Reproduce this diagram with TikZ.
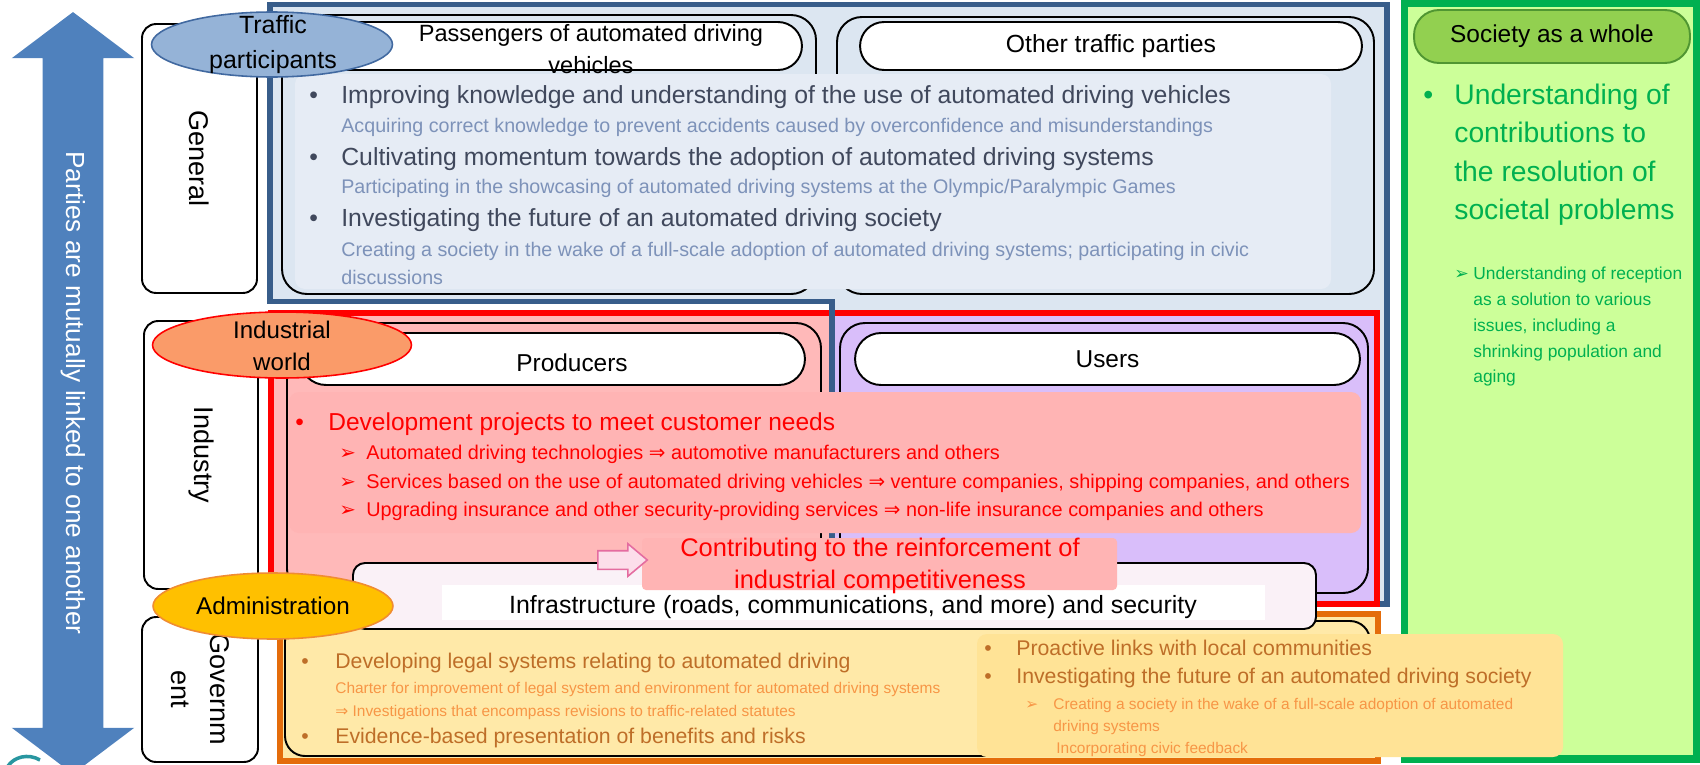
\documentclass[tikz,border=0pt]{standalone}
\usepackage{fontspec}
\setmainfont{Liberation Sans}
\newfontfamily\symfont{DejaVu Sans}
\usetikzlibrary{shapes.geometric,shapes.arrows,positioning}

\definecolor{linkblue}{RGB}{79,129,189}
\definecolor{framblue}{RGB}{56,93,138}
\definecolor{genfill}{RGB}{220,230,241}
\definecolor{genpanel}{RGB}{230,236,245}
\definecolor{gentext}{RGB}{64,72,92}
\definecolor{gensub}{RGB}{125,146,185}
\definecolor{tpfill}{RGB}{149,179,215}
\definecolor{tpline}{RGB}{65,105,160}
\definecolor{indred}{RGB}{255,0,0}
\definecolor{prodfill}{RGB}{255,185,185}
\definecolor{userfill}{RGB}{217,190,250}
\definecolor{devfill}{RGB}{255,180,180}
\definecolor{iwfill}{RGB}{250,155,105}
\definecolor{arrowpink}{RGB}{228,108,160}
\definecolor{arrowfill}{RGB}{252,222,234}
\definecolor{infrafill}{RGB}{250,241,247}
\definecolor{govline}{RGB}{228,108,10}
\definecolor{govfill}{RGB}{255,233,168}
\definecolor{govpanel}{RGB}{255,227,150}
\definecolor{govtext}{RGB}{190,110,40}
\definecolor{govsub}{RGB}{247,150,70}
\definecolor{adminfill}{RGB}{255,192,0}
\definecolor{adminline}{RGB}{240,140,50}
\definecolor{socline}{RGB}{0,176,80}
\definecolor{socfill}{RGB}{204,255,153}
\definecolor{socpill}{RGB}{146,208,80}
\definecolor{socpillline}{RGB}{80,150,50}
\definecolor{logoteal}{RGB}{40,150,160}

\tikzset{thinline/.style={draw=black, line width=1.1pt},
  catbox/.style={draw, line width=1.1pt, fill=white, rounded corners=0.28cm, rotate=-90, inner sep=0pt, align=center, font=\fontsize{15.4}{22.2}\selectfont},
  pillbox/.style={draw, line width=1.1pt, fill=white, rounded corners=0.48cm, inner sep=0pt, minimum height=0.96cm, font=\fontsize{13.9}{16}\selectfont},
  oval/.style={ellipse, draw, line width=0.9pt, inner sep=0pt},
  ovaltext/.style={align=center, inner sep=0pt, font=\fontsize{14}{19.9}\selectfont},
  gmain/.style={anchor=base west, inner sep=0pt, text=gentext, font=\fontsize{14.1}{17}\selectfont},
  gsub/.style={anchor=base west, inner sep=0pt, text=gensub, font=\fontsize{11.2}{14}\selectfont},
  imain/.style={anchor=base west, inner sep=0pt, text=indred, font=\fontsize{13.95}{17}\selectfont},
  isub/.style={anchor=base west, inner sep=0pt, text=indred, font=\fontsize{11.3}{14}\selectfont},
  omain/.style={anchor=base west, inner sep=0pt, text=govtext, font=\fontsize{12.1}{14}\selectfont},
  osub/.style={anchor=base west, inner sep=0pt, text=govsub, font=\fontsize{8.8}{10}\selectfont},
  smain/.style={anchor=base west, inner sep=0pt, text=socline, font=\fontsize{16.1}{19}\selectfont},
  ssub/.style={anchor=base west, inner sep=0pt, text=socline, font=\fontsize{9.9}{12}\selectfont},
  linkarrow/.style={double arrow, rotate=-90, fill=linkblue, text=white, inner xsep=0pt, inner ysep=0.37cm, text height=10pt, text depth=3pt, minimum height=15.24cm, double arrow head extend=0.62cm, double arrow tip angle=106, font=\fontsize{14.9}{17}\selectfont},
  pusharrow/.style={single arrow, draw=arrowpink, fill=arrowfill, line width=0.9pt, inner xsep=0pt, inner ysep=0.17cm, minimum height=0.99cm, single arrow head extend=0.14cm, single arrow tip angle=80}}

\begin{document}
\begin{tikzpicture}[x=0.02cm, y=-0.02cm]
    \useasboundingbox (0,0) rectangle (1700,764);
    % linking arrow on the left
    \node[linkarrow] (link) at (73,393) {Parties are mutually linked to one another};

    % society as a whole
    \draw[socline, line width=4pt, fill=socfill] (1404,3.5) rectangle (1696,759);
    \node[pillbox, fill=socpill, draw=socpillline, minimum width=5.52cm, minimum height=1.06cm, rounded corners=0.5cm] (society) at (1552,36.5) {Society as a whole};
    \node[smain] (sb) at (1423,104.3) {•};
    \node[smain] (s1) at (1454,104.3) {Understanding of};
    \node[smain] (s2) at (1454,142.3) {contributions to};
    \node[smain] (s3) at (1454,181.3) {the resolution of};
    \node[smain] (s4) at (1454,219.3) {societal problems};
    \node[ssub] (ssb) at (1454,279.7) {{\symfont ➢}};
    \node[ssub] (ss1) at (1473,279.7) {Understanding of reception};
    \node[ssub] (ss2) at (1473,305.7) {as a solution to various};
    \node[ssub] (ss3) at (1473,331.7) {issues, including a};
    \node[ssub] (ss4) at (1473,357.7) {shrinking population and};
    \node[ssub] (ss5) at (1473,382.7) {aging};

    % traffic participants
    \draw[framblue, line width=3.4pt, fill=genfill] (270,4.5) -- (1387,4.5) -- (1387,604) -- (832,604) -- (832,301.5) -- (270,301.5) -- cycle;
    \draw[thinline, rounded corners=0.5cm] (282,15) rectangle (816,294);
    \draw[thinline, rounded corners=0.5cm] (837,17) rectangle (1374,294);
    \node[pillbox, minimum width=10.04cm] (passpill) at (551,46) {};
    \node[pillbox, minimum width=10.04cm, font=\fontsize{14.1}{16}\selectfont] (otherpill) at (1111,46) {Other traffic parties};
    \node[ovaltext, font=\fontsize{13.4}{18.2}\selectfont] (passtext) at (591,49) {Passengers of automated driving\\vehicles};
    \fill[genpanel, rounded corners=0.2cm] (295,74) rectangle (1331,289);
    \node[gmain] (gb1) at (309,103) {•};
    \node[gmain] (g1) at (341,103) {Improving knowledge and understanding of the use of automated driving vehicles};
    \node[gsub] (g1s) at (341,132.6) {Acquiring correct knowledge to prevent accidents caused by overconfidence and misunderstandings};
    \node[gmain] (gb2) at (309,165) {•};
    \node[gmain] (g2) at (341,165) {Cultivating momentum towards the adoption of automated driving systems};
    \node[gsub] (g2s) at (341,193.6) {Participating in the showcasing of automated driving systems at the Olympic/Paralympic Games};
    \node[gmain] (gb3) at (309,226) {•};
    \node[gmain] (g3) at (341,226) {Investigating the future of an automated driving society};
    \node[gsub] (g3s) at (341,256.6) {Creating a society in the wake of a full-scale adoption of automated driving systems; participating in civic};
    \node[gsub] (g3t) at (341,284.6) {discussions};

    % industrial world
    \fill[prodfill] (271,313) rectangle (832,604);
    \fill[userfill] (832,313) rectangle (1377,604);
    \draw[indred, line width=3.4pt] (271,313) rectangle (1377,604);
    \draw[thinline, rounded corners=0.5cm] (287,323) rectangle (821,594);
    \draw[thinline, rounded corners=0.5cm] (840,323) rectangle (1368,593);
    \node[pillbox, minimum width=10.1cm, minimum height=1.04cm, rounded corners=0.52cm] (prodpill) at (552.5,359) {};
    \node[pillbox, minimum width=10.1cm, minimum height=1.04cm, rounded corners=0.52cm] (userpill) at (1107.5,359) {Users};
    \node[ovaltext, font=\fontsize{13.9}{16}\selectfont] (prodtext) at (572,363) {Producers};
    \draw[framblue, line width=3.4pt] (832,300) -- (832,540);
    \fill[devfill, rounded corners=0.2cm] (289,392) rectangle (1361,533);
    \node[imain] (ib) at (295,430.4) {•};
    \node[imain] (i1) at (328,430.4) {Development projects to meet customer needs};
    \node[isub] (ia1) at (339,459.8) {{\symfont ➢}};
    \node[isub] (i2) at (366,459.8) {Automated driving technologies {\symfont ⇒} automotive manufacturers and others};
    \node[isub] (ia2) at (339,488.8) {{\symfont ➢}};
    \node[isub] (i3) at (366,488.8) {Services based on the use of automated driving vehicles {\symfont ⇒} venture companies, shipping companies, and others};
    \node[isub] (ia3) at (339,516.8) {{\symfont ➢}};
    \node[isub] (i4) at (366,516.8) {Upgrading insurance and other security-providing services {\symfont ⇒} non-life insurance companies and others};

    % government
    \draw[govline, line width=3.4pt, fill=govfill] (280,614) rectangle (1378,761);
    \draw[thinline, rounded corners=0.4cm] (285,621) rectangle (1370,756);
    \node[omain] (ob1) at (301,668.8) {•};
    \node[omain] (o1) at (335,668.8) {Developing legal systems relating to automated driving};
    \node[osub] (o1s) at (335,693) {Charter for improvement of legal system and environment for automated driving systems};
    \node[osub] (o1t) at (335,716) {{\symfont ⇒} Investigations that encompass revisions to traffic-related statutes};
    \node[omain] (ob2) at (301,743.8) {•};
    \node[omain] (o2) at (335,743.8) {Evidence-based presentation of benefits and risks};

    % infrastructure and competitiveness
    \draw[thinline, fill=infrafill, rounded corners=0.24cm] (353,563) rectangle (1316,629);
    \fill[white] (442,585) rectangle (1265,620);
    \node[inner sep=0pt, font=\fontsize{14.2}{16}\selectfont] (infra) at (853,607) {Infrastructure (roads, communications, and more) and security};
    \fill[devfill, rounded corners=0.08cm] (642,538) rectangle (1117,590);
    \node[ovaltext, text=indred, font=\fontsize{14.5}{18.2}\selectfont] (contrib) at (880,566) {Contributing to the reinforcement of\\industrial competitiveness};
    \node[pusharrow] (push) at (617,560) {};

    \fill[govpanel, rounded corners=0.2cm] (977,634) rectangle (1563,757);
    \node[omain] (pb1) at (984,655.8) {•};
    \node[omain] (p1) at (1016,655.8) {Proactive links with local communities};
    \node[omain] (pb2) at (984,683.8) {•};
    \node[omain] (p2) at (1016,683.8) {Investigating the future of an automated driving society};
    \node[osub] (pa) at (1025,709) {{\symfont ➢}};
    \node[osub] (p3) at (1053,709) {Creating a society in the wake of a full-scale adoption of automated};
    \node[osub] (p4) at (1053,731) {driving systems};
    \node[osub] (p5) at (1056,753) {Incorporating civic feedback};

    % sector boxes and ovals
    \node[catbox, minimum width=5.38cm, minimum height=2.3cm] (general) at (199.5,158.5) {General};
    \node[catbox, minimum width=5.36cm, minimum height=2.28cm] (industry) at (201,455) {Industry};
    \node[catbox, minimum width=2.9cm, minimum height=2.32cm] (govt) at (200,689.5) {Governm\\ent};

    \node[oval, fill=tpfill, draw=tpline, minimum width=4.82cm, minimum height=1.3cm] (tp) at (272,44.5) {};
    \node[ovaltext, font=\fontsize{14.2}{19.9}\selectfont] (tptext) at (273,44.5) {Traffic\\participants};
    \node[oval, fill=iwfill, draw=indred, minimum width=5.18cm, minimum height=1.32cm] (iw) at (282,345) {};
    \node[ovaltext, font=\fontsize{13.7}{18.2}\selectfont] (iwtext) at (282,346) {Industrial\\world};
    \node[oval, fill=adminfill, draw=adminline, minimum width=4.8cm, minimum height=1.32cm, font=\fontsize{13.8}{16}\selectfont] (admin) at (273,606) {Administration};

    \draw[logoteal, line width=2pt] (40,760) .. controls (28,753) and (14,757) .. (8,766);
\end{tikzpicture}
\end{document}
